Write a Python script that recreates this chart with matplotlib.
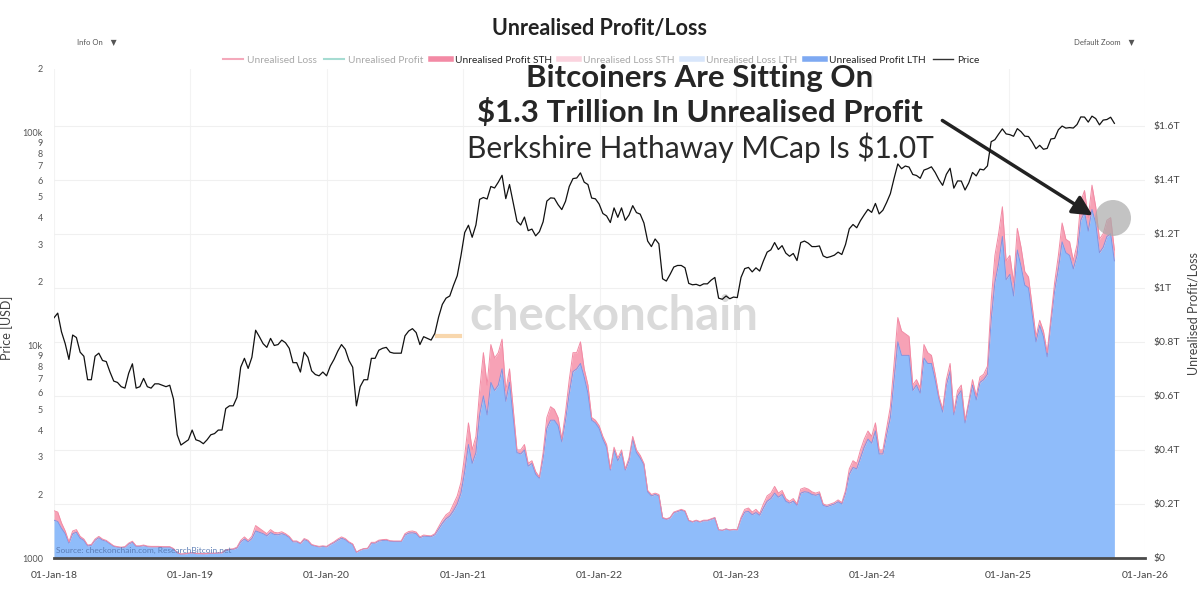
import numpy as np
import pandas as pd
import matplotlib
matplotlib.use('Agg')
import matplotlib.pyplot as plt
from matplotlib.lines import Line2D
from matplotlib.patches import FancyArrowPatch, Ellipse
from matplotlib.ticker import NullLocator

plt.rcParams['font.family'] = ['Lato', 'DejaVu Sans']

# 10-day samples starting 01-Jan-2018
price_k = [
    # 2018
    13.5, 14.2, 11.6, 10.2, 8.6, 11.2, 10.9, 9.3, 8.9, 6.9, 6.9, 8.9, 9.2, 8.5, 8.4, 7.5, 6.8, 6.7, 6.4,
    6.3, 7.4, 8.2, 6.3, 6.4, 7.0, 6.4, 6.3, 6.6, 6.6, 6.5, 6.4, 6.5, 5.6, 3.8, 3.4, 3.5, 3.6,
    # 2019
    4.0, 3.6, 3.55, 3.45, 3.6, 3.8, 3.85, 4.0, 4.0, 5.05, 5.2, 5.2, 5.7, 7.9, 8.7, 7.8, 8.8, 11.8,
    11.0, 10.2, 9.8, 10.8, 10.0, 10.1, 10.6, 10.3, 9.7, 8.3, 8.3, 7.5, 9.3, 8.8, 7.6, 7.3, 7.2, 7.5,
    # 2020
    7.2, 8.0, 8.6, 9.4, 10.1, 9.6, 8.5, 7.9, 5.2, 6.4, 6.9, 6.9, 8.7, 8.7, 9.5, 9.7, 9.8, 9.3, 9.2,
    9.2, 9.2, 11.1, 11.7, 12.0, 11.5, 10.1, 11.0, 10.8, 10.6, 11.4, 13.6, 15.6, 16.7, 17.1, 19.2, 21.3, 26.5,
    # 2021
    34.0, 36.8, 32.3, 36.9, 48.7, 49.7, 48.9, 56.0, 55.1, 58.7, 63.2, 49.1, 57.2, 46.9, 38.4, 36.9, 40.2,
    34.7, 35.3, 32.8, 34.3, 38.2, 47.8, 49.5, 49.3, 46.0, 43.6, 47.7, 56.0, 61.0, 61.4, 64.9, 58.7, 57.2,
    49.4, 49.0, 46.3,
    # 2022
    41.8, 40.7, 37.9, 44.4, 40.1, 44.4, 38.8, 41.1, 45.5, 42.2, 41.5, 37.7, 31.0, 29.2, 31.7, 30.1, 20.6,
    20.1, 21.6, 23.4, 23.8, 23.8, 23.2, 19.6, 19.3, 19.4, 19.1, 19.5, 19.5, 20.3, 20.9, 16.7, 16.5, 17.1,
    16.6, 16.9,
    # 2023
    16.8, 20.9, 23.0, 23.3, 22.2, 23.2, 22.4, 25.0, 27.5, 28.2, 30.5, 28.3, 29.5, 27.2, 26.3, 27.1, 25.1,
    30.5, 31.0, 30.3, 29.2, 29.2, 29.4, 26.4, 25.9, 26.2, 26.6, 27.5, 26.8, 29.9, 35.4, 37.1, 35.8, 38.7,
    41.2, 43.7, 42.3,
    # 2024
    46.6, 41.6, 43.3, 47.1, 51.8, 61.2, 71.5, 67.9, 69.9, 69.1, 63.8, 63.1, 61.2, 66.9, 67.9, 69.3, 65.2,
    60.3, 56.7, 63.9, 68.2, 55.0, 59.5, 59.4, 53.9, 58.2, 65.2, 62.8, 67.6, 67.0, 70.0, 91.0, 93.0, 98.8,
    104.5, 99.0,
    # 2025
    98.2, 96.5, 104.8, 101.4, 96.6, 96.2, 90.6, 84.3, 87.5, 83.8, 84.6, 93.7, 94.3, 103.5, 107.8, 105.4,
    106.0, 105.5, 109.6, 119.0, 118.8, 112.5, 120.0, 116.9, 109.2, 115.0, 115.7, 118.6, 111.0,
]

profit_total_t = [
    # 2018
    0.175, 0.17, 0.13, 0.10, 0.06, 0.10, 0.105, 0.08, 0.07, 0.048, 0.05, 0.07, 0.08, 0.07, 0.065, 0.055,
    0.045, 0.042, 0.04, 0.042, 0.055, 0.062, 0.045, 0.045, 0.048, 0.044, 0.043, 0.043, 0.043, 0.042,
    0.042, 0.042, 0.035, 0.02, 0.015, 0.016, 0.018,
    # 2019
    0.02, 0.017, 0.017, 0.016, 0.017, 0.018, 0.018, 0.019, 0.02, 0.03, 0.033, 0.034, 0.04, 0.065, 0.078,
    0.065, 0.08, 0.12, 0.11, 0.10, 0.09, 0.105, 0.095, 0.093, 0.097, 0.09, 0.08, 0.063, 0.063, 0.055,
    0.072, 0.066, 0.05, 0.046, 0.043, 0.045,
    # 2020
    0.043, 0.052, 0.06, 0.07, 0.078, 0.072, 0.06, 0.052, 0.022, 0.03, 0.035, 0.036, 0.058, 0.058, 0.066,
    0.068, 0.069, 0.064, 0.063, 0.063, 0.063, 0.09, 0.098, 0.10, 0.096, 0.078, 0.085, 0.083, 0.082, 0.09,
    0.115, 0.14, 0.16, 0.17, 0.20, 0.23, 0.28,
    # 2021
    0.38, 0.50, 0.40, 0.45, 0.62, 0.76, 0.64, 0.79, 0.74, 0.76, 0.81, 0.62, 0.70, 0.55, 0.40, 0.40, 0.42,
    0.35, 0.36, 0.32, 0.30, 0.39, 0.52, 0.56, 0.55, 0.52, 0.44, 0.54, 0.66, 0.76, 0.76, 0.80, 0.70, 0.64,
    0.52, 0.51, 0.49,
    # 2022
    0.45, 0.42, 0.33, 0.41, 0.37, 0.40, 0.33, 0.37, 0.45, 0.40, 0.38, 0.35, 0.25, 0.235, 0.24, 0.235,
    0.15, 0.145, 0.15, 0.17, 0.175, 0.18, 0.175, 0.14, 0.135, 0.14, 0.135, 0.14, 0.14, 0.145, 0.15,
    0.105, 0.103, 0.108, 0.104, 0.106,
    # 2023
    0.105, 0.15, 0.18, 0.185, 0.17, 0.18, 0.165, 0.20, 0.23, 0.24, 0.265, 0.24, 0.25, 0.22, 0.21, 0.22,
    0.20, 0.255, 0.26, 0.255, 0.245, 0.24, 0.245, 0.20, 0.195, 0.20, 0.205, 0.215, 0.205, 0.25, 0.33,
    0.36, 0.35, 0.40, 0.44, 0.47, 0.45,
    # 2024
    0.50, 0.40, 0.40, 0.48, 0.56, 0.72, 0.89, 0.84, 0.83, 0.82, 0.64, 0.66, 0.63, 0.79, 0.76, 0.75, 0.68,
    0.60, 0.55, 0.66, 0.72, 0.54, 0.62, 0.64, 0.51, 0.58, 0.66, 0.60, 0.67, 0.68, 0.71, 0.95, 1.12, 1.20,
    1.30, 1.10,
    # 2025
    1.12, 1.02, 1.22, 1.15, 1.06, 1.04, 0.93, 0.82, 0.88, 0.84, 0.76, 0.89, 1.02, 1.12, 1.24, 1.18, 1.17,
    1.10, 1.16, 1.32, 1.36, 1.26, 1.38, 1.30, 1.18, 1.20, 1.25, 1.26, 1.14,
]

profit_lth_t = [
    # 2018
    0.14, 0.135, 0.11, 0.09, 0.055, 0.09, 0.095, 0.073, 0.065, 0.045, 0.047, 0.066, 0.075, 0.066, 0.062,
    0.052, 0.043, 0.04, 0.038, 0.04, 0.052, 0.058, 0.043, 0.043, 0.046, 0.042, 0.041, 0.041, 0.041, 0.04,
    0.04, 0.04, 0.034, 0.019, 0.014, 0.015, 0.017,
    # 2019
    0.019, 0.016, 0.016, 0.015, 0.016, 0.017, 0.017, 0.018, 0.019, 0.028, 0.031, 0.032, 0.037, 0.06, 0.07,
    0.06, 0.072, 0.10, 0.095, 0.09, 0.082, 0.094, 0.087, 0.086, 0.09, 0.085, 0.076, 0.06, 0.06, 0.053,
    0.068, 0.063, 0.048, 0.044, 0.041, 0.043,
    # 2020
    0.041, 0.05, 0.057, 0.066, 0.073, 0.068, 0.057, 0.05, 0.021, 0.029, 0.034, 0.035, 0.055, 0.055, 0.063,
    0.065, 0.066, 0.062, 0.061, 0.061, 0.061, 0.085, 0.092, 0.093, 0.09, 0.075, 0.081, 0.08, 0.079, 0.086,
    0.107, 0.128, 0.145, 0.155, 0.175, 0.20, 0.24,
    # 2021
    0.32, 0.42, 0.35, 0.39, 0.53, 0.60, 0.53, 0.65, 0.62, 0.64, 0.70, 0.58, 0.65, 0.52, 0.39, 0.385, 0.40,
    0.34, 0.35, 0.31, 0.295, 0.37, 0.48, 0.51, 0.51, 0.49, 0.43, 0.51, 0.61, 0.69, 0.70, 0.72, 0.67, 0.61,
    0.51, 0.50, 0.48,
    # 2022
    0.44, 0.41, 0.325, 0.40, 0.36, 0.39, 0.325, 0.36, 0.44, 0.39, 0.37, 0.345, 0.245, 0.23, 0.235, 0.23,
    0.148, 0.143, 0.148, 0.168, 0.172, 0.177, 0.172, 0.138, 0.133, 0.138, 0.133, 0.138, 0.138, 0.143,
    0.148, 0.104, 0.102, 0.107, 0.103, 0.105,
    # 2023
    0.104, 0.145, 0.17, 0.172, 0.16, 0.168, 0.158, 0.185, 0.21, 0.22, 0.24, 0.225, 0.235, 0.21, 0.203,
    0.21, 0.195, 0.24, 0.245, 0.243, 0.235, 0.232, 0.237, 0.195, 0.19, 0.195, 0.2, 0.208, 0.2, 0.24, 0.31,
    0.335, 0.33, 0.37, 0.41, 0.44, 0.425,
    # 2024
    0.47, 0.385, 0.385, 0.455, 0.52, 0.66, 0.80, 0.75, 0.75, 0.75, 0.62, 0.64, 0.61, 0.74, 0.72, 0.72,
    0.66, 0.59, 0.54, 0.64, 0.69, 0.53, 0.60, 0.62, 0.50, 0.57, 0.64, 0.585, 0.65, 0.66, 0.68, 0.88, 1.02,
    1.09, 1.19, 1.03,
    # 2025
    1.05, 0.97, 1.14, 1.08, 1.01, 1.0, 0.90, 0.80, 0.86, 0.82, 0.745, 0.87, 0.99, 1.07, 1.17, 1.13, 1.12,
    1.07, 1.12, 1.25, 1.28, 1.21, 1.29, 1.24, 1.13, 1.15, 1.19, 1.20, 1.10,
]

left_ticks = [1000, 2000, 3000, 4000, 5000, 6000, 7000, 8000, 9000,
              10000, 20000, 30000, 40000, 50000, 60000, 70000, 80000, 90000,
              100000, 200000]
left_labels = ['1000', '2', '3', '4', '5', '6', '7', '8', '9',
               '10k', '2', '3', '4', '5', '6', '7', '8', '9',
               '100k', '2']
right_ticks = [0, 0.2, 0.4, 0.6, 0.8, 1.0, 1.2, 1.4, 1.6]
right_labels = [r'\$0', r'\$0.2T', r'\$0.4T', r'\$0.6T', r'\$0.8T', r'\$1T', r'\$1.2T', r'\$1.4T', r'\$1.6T']
year_ticks = pd.date_range('2018-01-01', '2026-01-01', freq='YS')

dates = pd.date_range('2018-01-01', periods=len(price_k), freq='10D')
price = np.array(price_k) * 1000
total = np.array(profit_total_t)
lth = np.array(profit_lth_t)

fig = plt.figure(figsize=(12, 6.02), dpi=100)
fig.patch.set_facecolor('white')

W, H = 1200, 602
x0, x1, y0, y1 = 54, 1145, 558, 69
ax_p = fig.add_axes([x0 / W, 1 - y0 / H, (x1 - x0) / W, (y0 - y1) / H])
ax_u = ax_p.twinx()
ax_p.set_zorder(ax_u.get_zorder() + 1)
ax_p.patch.set_visible(False)

# profit area (right axis)
ax_u.fill_between(dates, 0, lth, color='#8fbcfa', lw=0, zorder=2)
ax_u.fill_between(dates, lth, total, color='#f7a2b6', lw=0, zorder=2)
ax_u.plot(dates, lth, color='#8393e0', lw=0.7, zorder=3)
ax_u.plot(dates, total, color='#f28aa4', lw=0.7, zorder=3)
ax_u.set_ylim(0, 1.81)
ax_u.set_yticks(right_ticks, right_labels)
ax_u.grid(axis='y', color='#f0f0f0', lw=0.8)
ax_u.set_axisbelow(True)
for d in year_ticks:
    ax_u.axvline(d, color='#f3f3f3', lw=0.8, zorder=0.5)
ax_u.tick_params(axis='y', length=0, labelsize=7.5, labelcolor='#444', pad=6)
ax_u.set_ylabel('Unrealised Profit/Loss', fontsize=9, color='#444')
ax_u.yaxis.set_label_coords((1188 - x0) / (x1 - x0), 0.5)
for s in ax_u.spines.values():
    s.set_visible(False)

# price line (left log axis)
ax_p.plot(dates, price, color='#111111', lw=0.9)
ax_p.set_yscale('log')
ax_p.set_ylim(1000, 200000)
ax_p.set_yticks(left_ticks, left_labels)
ax_p.yaxis.set_minor_locator(NullLocator())
ax_p.tick_params(axis='y', length=0, labelsize=6.5, labelcolor='#555', pad=8)
ax_p.set_ylabel('Price [USD]', fontsize=9, color='#444')
ax_p.yaxis.set_label_coords((13 - x0) / (x1 - x0), 0.47)
ax_p.set_xlim(pd.Timestamp('2018-01-01'), pd.Timestamp('2026-01-01'))
ax_p.set_xticks(year_ticks, [d.strftime('%d-%b-%y') for d in year_ticks])
ax_p.tick_params(axis='x', length=0, labelsize=7.5, labelcolor='#444', pad=9)
for k, s in ax_p.spines.items():
    s.set_visible(k == 'bottom')
ax_p.spines['bottom'].set_color('#4a4a4a')
ax_p.spines['bottom'].set_linewidth(2)

# watermark and source
ax_u.text(614 / W, 1 - 316 / H, 'checkonchain', transform=fig.transFigure, ha='center', va='center',
          fontsize=34, fontweight='bold', color='#dadada', zorder=1)
ax_u.add_line(Line2D([437 / W, 460 / W], [1 - 336 / H, 1 - 336 / H], transform=fig.transFigure,
                     color='#f8d7ad', lw=3, zorder=1))
ax_u.text(56 / W, 1 - 553 / H, 'Source: checkonchain.com, ResearchBitcoin.net', transform=fig.transFigure,
          fontsize=6, color='#5b7db5', zorder=6)

# header
fig.text(0.5, 1 - 28 / H, 'Unrealised Profit/Loss', ha='center', va='center', fontsize=15.5,
         fontweight='bold', color='#222')
fig.text(77 / W, 1 - 42 / H, 'Info On    \u25BC', ha='left', va='center', fontsize=5.5, color='#555')
fig.text(1074 / W, 1 - 42 / H, 'Default Zoom    \u25BC', ha='left', va='center', fontsize=5.5, color='#555')

handles = [
    Line2D([], [], color='#f4a9bb', lw=1.5),
    Line2D([], [], color='#a6dcd2', lw=1.5),
    Line2D([], [], color='#f38aa5', lw=4),
    Line2D([], [], color='#fbd3de', lw=4),
    Line2D([], [], color='#d8e6fb', lw=4),
    Line2D([], [], color='#7ea9f2', lw=4),
    Line2D([], [], color='#333333', lw=1),
]
names = ['Unrealised Loss', 'Unrealised Profit', 'Unrealised Profit STH', 'Unrealised Loss STH',
         'Unrealised Loss LTH', 'Unrealised Profit LTH', 'Price']
active = [False, False, True, False, False, True, True]
leg = fig.legend(handles, names, loc='center', bbox_to_anchor=(601 / W, 1 - 60 / H), ncol=7,
                 frameon=False, fontsize=7.3, handlelength=2.0, columnspacing=0.7, handletextpad=0.4)
for t, on in zip(leg.get_texts(), active):
    t.set_color('#222' if on else '#a8a8a8')

# annotation
fig.text(700 / W, 1 - 78 / H, 'Bitcoiners Are Sitting On', ha='center', va='center', fontsize=22.5,
         fontweight='bold', color='#262626')
fig.text(700 / W, 1 - 112 / H, r'\$1.3 Trillion In Unrealised Profit', ha='center', va='center',
         fontsize=22.5, fontweight='bold', color='#262626')
fig.text(700 / W, 1 - 148 / H, r'Berkshire Hathaway MCap Is \$1.0T', ha='center', va='center',
         fontsize=21.5, fontweight='normal', color='#2a2a2a')
fig.add_artist(FancyArrowPatch((940 / W, 1 - 119 / H), (1095 / W, 1 - 217 / H), transform=fig.transFigure,
                               arrowstyle='-|>', mutation_scale=30, lw=2.5, color='#222'))
fig.add_artist(Ellipse((1113 / W, 1 - 218 / H), 36 / W, 36 / H, transform=fig.transFigure,
                       facecolor='#aaaaaa', alpha=0.7, lw=0))

fig.savefig('out.png', dpi=100)
